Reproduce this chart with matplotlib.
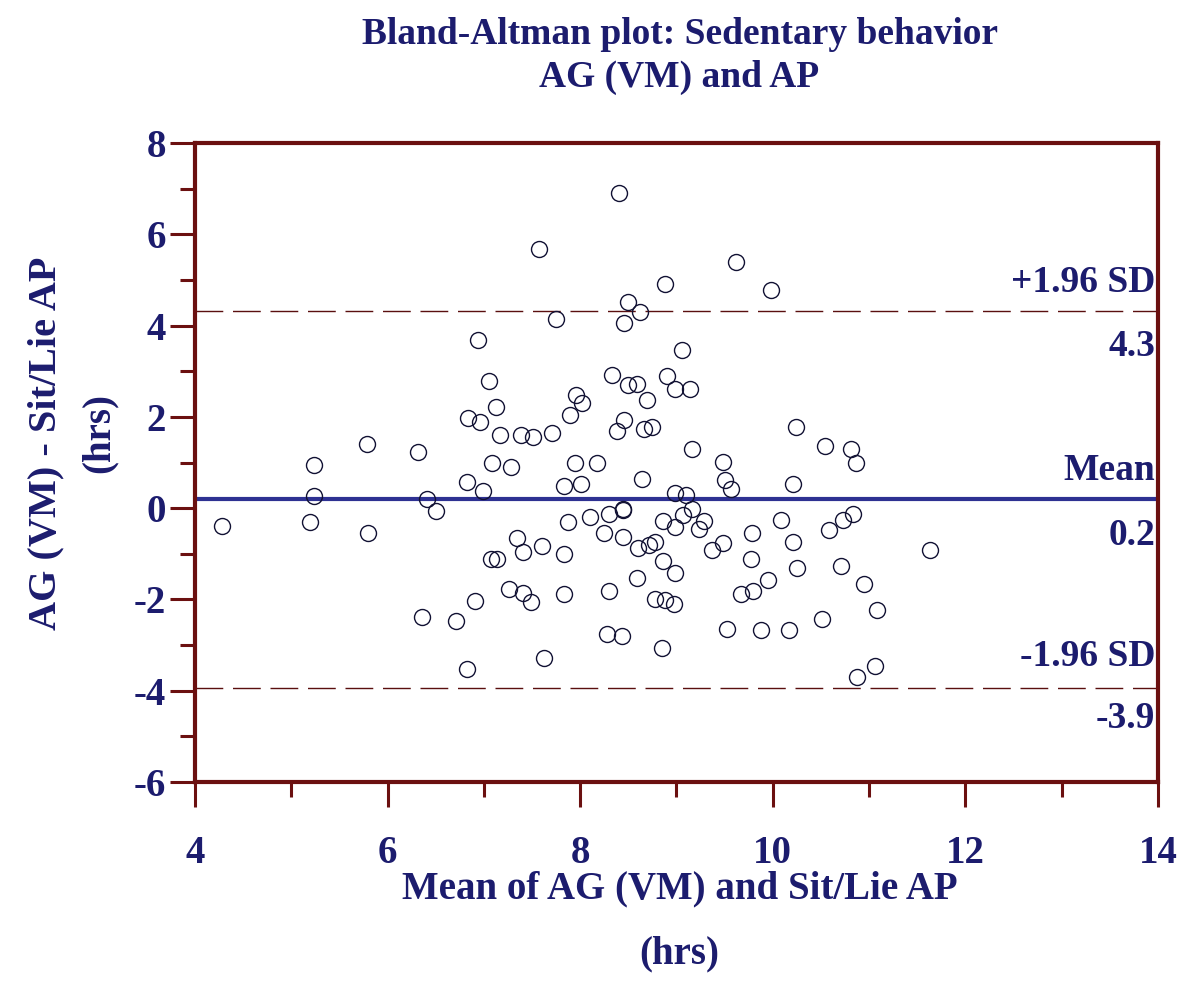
import numpy as np
import matplotlib.pyplot as plt
from matplotlib.ticker import MultipleLocator
from matplotlib.transforms import blended_transform_factory

plt.rcParams['axes.unicode_minus'] = False

# Bland-Altman data: mean of the two methods (x) and difference (y)
mean_hrs = [
    4.28, 5.24, 5.24, 5.19, 5.79, 5.80, 6.32, 6.41, 6.50, 6.36,
    6.71, 6.82, 6.91, 6.82, 6.99, 7.08, 7.28, 7.07, 7.14, 7.34,
    7.41, 7.60, 7.83, 7.26, 7.41, 7.49, 7.83, 7.62, 7.95, 7.83,
    8.01, 7.87, 8.10, 7.57, 7.75, 6.94, 7.05, 7.13, 6.84, 6.96,
    7.17, 7.39, 7.51, 7.71, 7.96, 8.02, 7.89, 8.40, 9.62, 9.98,
    8.88, 8.50, 8.62, 8.46, 9.06, 8.33, 8.50, 8.59, 8.90, 8.98,
    9.14, 8.69, 8.46, 8.38, 8.66, 8.75, 10.24, 9.16, 10.54, 10.81,
    9.48, 10.86, 8.18, 8.64, 9.50, 9.57, 10.21, 8.98, 9.10, 8.45,
    9.16, 8.30, 8.44, 8.86, 9.07, 9.29, 9.23, 8.98, 8.25, 8.44,
    10.09, 10.58, 10.73, 10.83, 11.63, 9.78, 8.60, 8.71, 8.78, 9.37,
    9.48, 10.21, 8.86, 8.99, 9.77, 10.25, 10.71, 8.59, 8.30, 8.78,
    8.88, 8.97, 9.67, 9.79, 9.95, 10.95, 11.08, 10.51, 8.28, 8.43,
    9.53, 9.88, 10.17, 8.85, 11.06, 10.87,
]
diff_hrs = [
    -0.39, 0.94, 0.26, -0.31, 1.40, -0.55, 1.23, 0.19, -0.06, -2.38,
    -2.47, -3.53, -2.04, 0.58, 0.38, 1.00, 0.90, -1.12, -1.12, -0.66,
    -0.97, -0.82, -1.01, -1.77, -1.87, -2.05, -1.88, -3.29, 0.98, 0.48,
    0.53, -0.31, -0.19, 5.67, 4.14, 3.68, 2.78, 2.21, 1.97, 1.89,
    1.60, 1.60, 1.55, 1.64, 2.48, 2.31, 2.05, 6.90, 5.40, 4.79,
    4.91, 4.52, 4.30, 4.06, 3.46, 2.91, 2.70, 2.73, 2.89, 2.60,
    2.62, 2.38, 1.94, 1.69, 1.73, 1.78, 1.78, 1.29, 1.36, 1.29,
    1.02, 1.00, 0.98, 0.63, 0.61, 0.43, 0.53, 0.34, 0.28, -0.01,
    -0.01, -0.13, -0.05, -0.28, -0.15, -0.28, -0.45, -0.41, -0.55, -0.63,
    -0.25, -0.47, -0.25, -0.13, -0.92, -0.55, -0.88, -0.81, -0.74, -0.92,
    -0.77, -0.74, -1.15, -1.43, -1.12, -1.31, -1.27, -1.54, -1.81, -2.00,
    -2.02, -2.09, -1.88, -1.81, -1.58, -1.67, -2.23, -2.42, -2.76, -2.80,
    -2.65, -2.66, -2.66, -3.07, -3.46, -3.70,
]

mean_diff = 0.19
upper_loa = 4.31
lower_loa = -3.93

navy = '#1c1c6e'
frame = '#6b1010'
serif = ['Liberation Serif', 'DejaVu Serif']

fig = plt.figure(figsize=(11.88, 9.89), dpi=100)
ax = fig.add_axes([0.1641, 0.2093, 0.8106, 0.6461])

ax.plot(mean_hrs, diff_hrs, 'o', ms=11.5, mfc='none', mec='#111133', mew=1.0,
        zorder=3)

ax.axhline(mean_diff, color='#2e3192', lw=3.0, zorder=2)
for v in (upper_loa, lower_loa):
    ax.axhline(v, color='#5a0f0f', lw=1.0, dashes=(20, 7), zorder=2)

ax.set_xlim(4, 14)
ax.set_ylim(-6, 8)
ax.xaxis.set_major_locator(MultipleLocator(2))
ax.xaxis.set_minor_locator(MultipleLocator(1))
ax.yaxis.set_major_locator(MultipleLocator(2))
ax.yaxis.set_minor_locator(MultipleLocator(1))

for s in ax.spines.values():
    s.set_color(frame)
    s.set_linewidth(3)

ax.tick_params(which='major', direction='out', length=18, width=2.2,
               color=frame)
ax.tick_params(which='minor', direction='out', length=11, width=2.2,
               color=frame)
ax.tick_params(axis='x', which='major', pad=20)
ax.tick_params(axis='y', which='major', pad=3)
for lab in ax.get_xticklabels() + ax.get_yticklabels():
    lab.set_family(serif)
    lab.set_fontweight('bold')
    lab.set_fontsize(28)
    lab.set_color(navy)

# labels on the right edge for the limits of agreement
tr = blended_transform_factory(ax.transAxes, ax.transData)
txt = dict(ha='right', va='center', color=navy, family=serif,
           fontweight='bold', fontsize=27, xycoords=tr,
           textcoords='offset points')
for v, name, up, down in [(upper_loa, '+1.96 SD', 21, -25),
                          (mean_diff, 'Mean', 21, -26),
                          (lower_loa, '-1.96 SD', 22, -22)]:
    ax.annotate(name, xy=(0.997, v), xytext=(0, up), **txt)
    ax.annotate('%.1f' % v, xy=(0.997, v), xytext=(0, down), **txt)

font = dict(color=navy, family=serif, fontweight='bold', ha='center',
            va='center')
fig.text(0.572, 1 - 34 / 989, 'Bland-Altman plot: Sedentary behavior',
         fontsize=27, **font)
fig.text(0.572, 1 - 77 / 989, 'AG (VM) and AP', fontsize=27, **font)
fig.text(0.572, 1 - 889 / 989, 'Mean of AG (VM) and Sit/Lie AP',
         fontsize=28, **font)
fig.text(0.572, 1 - 954 / 989, '(hrs)', fontsize=28, **font)
fig.text(46 / 1188, 1 - 443 / 989, 'AG (VM) - Sit/Lie AP', rotation=90,
         fontsize=29, **font)
fig.text(99 / 1188, 1 - 433 / 989, '(hrs)', rotation=90, fontsize=28, **font)

fig.savefig('out.png', dpi=100)
